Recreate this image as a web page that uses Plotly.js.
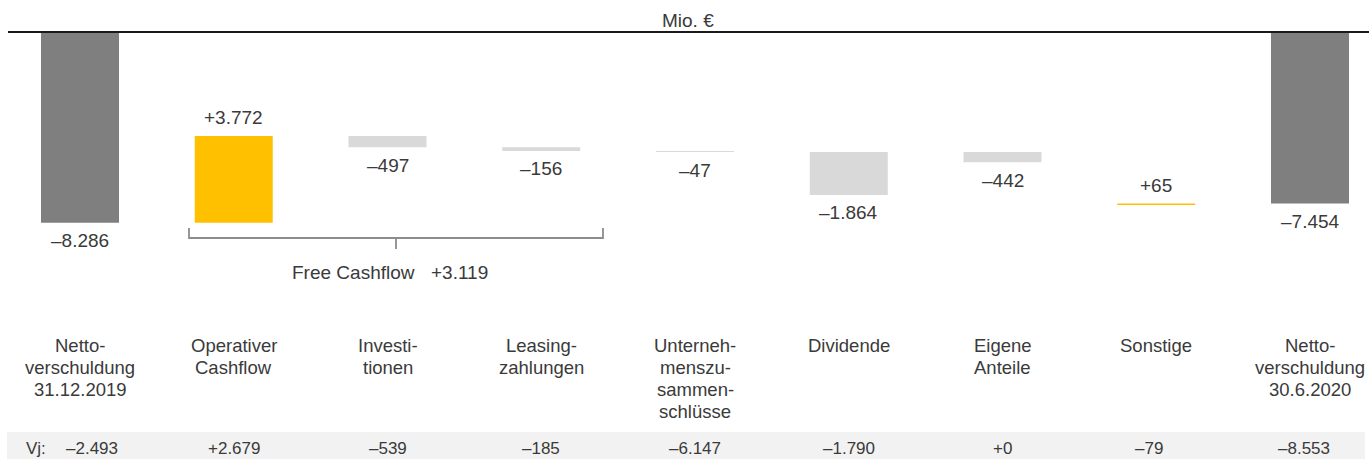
<!DOCTYPE html>
<html>
<head>
<meta charset="utf-8">
<script src="https://cdn.plot.ly/plotly-3.0.1.min.js"></script>
<style>html,body{margin:0;padding:0;background:#fff;}#chart{width:1369px;height:459px;}</style>
</head>
<body>
<div id="chart"></div>
<script>
// ---- data (Mio. €) ----
const categories = [
  'Netto-<br>verschuldung<br>31.12.2019',
  'Operativer<br>Cashflow',
  'Investi-<br>tionen',
  'Leasing-<br>zahlungen',
  'Unterneh-<br>menszu-<br>sammen-<br>schlüsse',
  'Dividende',
  'Eigene<br>Anteile',
  'Sonstige',
  'Netto-<br>verschuldung<br>30.6.2020'
];
const values = [-8286, 3772, -497, -156, -47, -1864, -442, 65, -7454];
// start level of each bar as drawn in the picture
const barBase = [0, -8286, -4514, -5011, -5167, -5214, -5214, -7519, 0];
const barKind = ['total', 'up', 'down', 'down', 'down', 'down', 'down', 'up', 'total'];
const priorYear = [-2493, 2679, -539, -185, -6147, -1790, 0, -79, -8553];
const freeCashflowItems = [1, 2, 3];
const unitLabel = 'Mio. €';
const priorYearLabel = 'Vj:';
const freeCashflowLabel = 'Free Cashflow';

// ---- geometry helpers ----
const W = 1369, H = 459;
const STEP = 153.75, X0PX = 80;          // px between categories, px of first category
const PXPERUNIT = 0.02302, Y0PX = 32;    // px per Mio. €, px of zero line
const xr = [-X0PX / STEP, (W - X0PX) / STEP];
const yr = [-(H - Y0PX) / PXPERUNIT, Y0PX / PXPERUNIT];
const py = p => 1 - p / H;        // pixel row -> paper y
const pxp = p => p / W;           // pixel column -> paper x
const yv = p => -(p - Y0PX) / PXPERUNIT; // pixel row -> data y

const colorMap = {total: '#7f7f7f', up: '#ffc000', down: '#d9d9d9'};
const FONT = 'Liberation Sans, Arial, sans-serif';
const TXT = '#3a3a3a';

function fmt(v, sign) {
  const a = Math.abs(v).toString().replace(/\B(?=(\d{3})+(?!\d))/g, '.');
  if (v < 0) return '\u2013' + a;
  return (sign ? '+' : '') + a;
}

const xs = categories.map((_, i) => i);

const trace = {
  type: 'bar',
  x: xs,
  y: values,
  base: barBase,
  width: 78 / STEP,
  marker: {color: barKind.map(k => colorMap[k]), line: {width: 0}},
  hoverinfo: 'skip',
  showlegend: false
};

const annotations = [];
// value labels
values.forEach((v, i) => {
  const end = barBase[i] + v;
  annotations.push({
    x: i, y: end, xref: 'x', yref: 'y',
    text: fmt(v, barKind[i] !== 'total'),
    showarrow: false, yanchor: 'middle', xanchor: 'center',
    yshift: v > 0 ? 18 : -18,
    font: {family: FONT, size: 19, color: TXT}
  });
});
// category labels, one annotation per line
categories.forEach((c, i) => {
  c.split('<br>').forEach((line, j) => {
    annotations.push({
      x: i, xref: 'x', y: py(345.5 + 22 * j), yref: 'paper',
      text: line, showarrow: false, xanchor: 'center', yanchor: 'middle',
      font: {family: FONT, size: 18.5, color: TXT}
    });
  });
});
// prior-year row
annotations.push({
  x: pxp(24), xref: 'paper', y: py(448), yref: 'paper', text: priorYearLabel,
  showarrow: false, xanchor: 'left', yanchor: 'middle',
  font: {family: FONT, size: 17, color: TXT}
});
const vjShift = [12, 0, 0, 0, 0, 0, 0, -7, -6];
priorYear.forEach((v, i) => {
  annotations.push({
    x: i, xref: 'x', y: py(448), yref: 'paper', xshift: vjShift[i],
    text: fmt(v, true), showarrow: false, xanchor: 'center', yanchor: 'middle',
    font: {family: FONT, size: 17, color: TXT}
  });
});
// unit
annotations.push({
  x: pxp(687.5), xref: 'paper', y: py(21), yref: 'paper', text: unitLabel,
  showarrow: false, xanchor: 'center', yanchor: 'middle',
  font: {family: FONT, size: 19, color: TXT}
});
// free cashflow
const fcf = freeCashflowItems.reduce((s, i) => s + values[i], 0);
annotations.push({
  x: pxp(417), xref: 'paper', y: py(272), yref: 'paper', text: freeCashflowLabel,
  showarrow: false, xanchor: 'right', yanchor: 'middle',
  font: {family: FONT, size: 19, color: TXT}
});
annotations.push({
  x: pxp(429), xref: 'paper', y: py(272), yref: 'paper', text: fmt(fcf, true),
  showarrow: false, xanchor: 'left', yanchor: 'middle',
  font: {family: FONT, size: 19, color: TXT}
});

// bracket
const bL = (189 - X0PX) / STEP, bR = (603 - X0PX) / STEP, bM = (bL + bR) / 2;
const yTop = yv(228), yMid = yv(238), yBot = yv(249);
const shapes = [
  {type: 'rect', xref: 'paper', yref: 'paper', x0: pxp(7), x1: pxp(1365), y0: py(459), y1: py(432),
   fillcolor: '#f2f2f2', line: {width: 0}, layer: 'below'},
  {type: 'line', xref: 'paper', yref: 'y', x0: pxp(8), x1: 1, y0: 0, y1: 0,
   line: {color: '#1a1a1a', width: 2}},
  {type: 'path', xref: 'x', yref: 'y',
   path: `M ${bL} ${yTop} L ${bL} ${yMid} L ${bR} ${yMid} L ${bR} ${yTop} M ${bM} ${yMid} L ${bM} ${yBot}`,
   line: {color: '#8c8c8c', width: 1.8}}
];

const layout = {
  width: W, height: H,
  margin: {l: 0, r: 0, t: 0, b: 0, pad: 0},
  paper_bgcolor: '#ffffff', plot_bgcolor: '#ffffff',
  xaxis: {range: xr, visible: false, fixedrange: true},
  yaxis: {range: yr, visible: false, fixedrange: true},
  showlegend: false,
  annotations: annotations,
  shapes: shapes,
  hovermode: false
};

Plotly.newPlot('chart', [trace], layout, {staticPlot: true, displayModeBar: false});
</script>
</body>
</html>
